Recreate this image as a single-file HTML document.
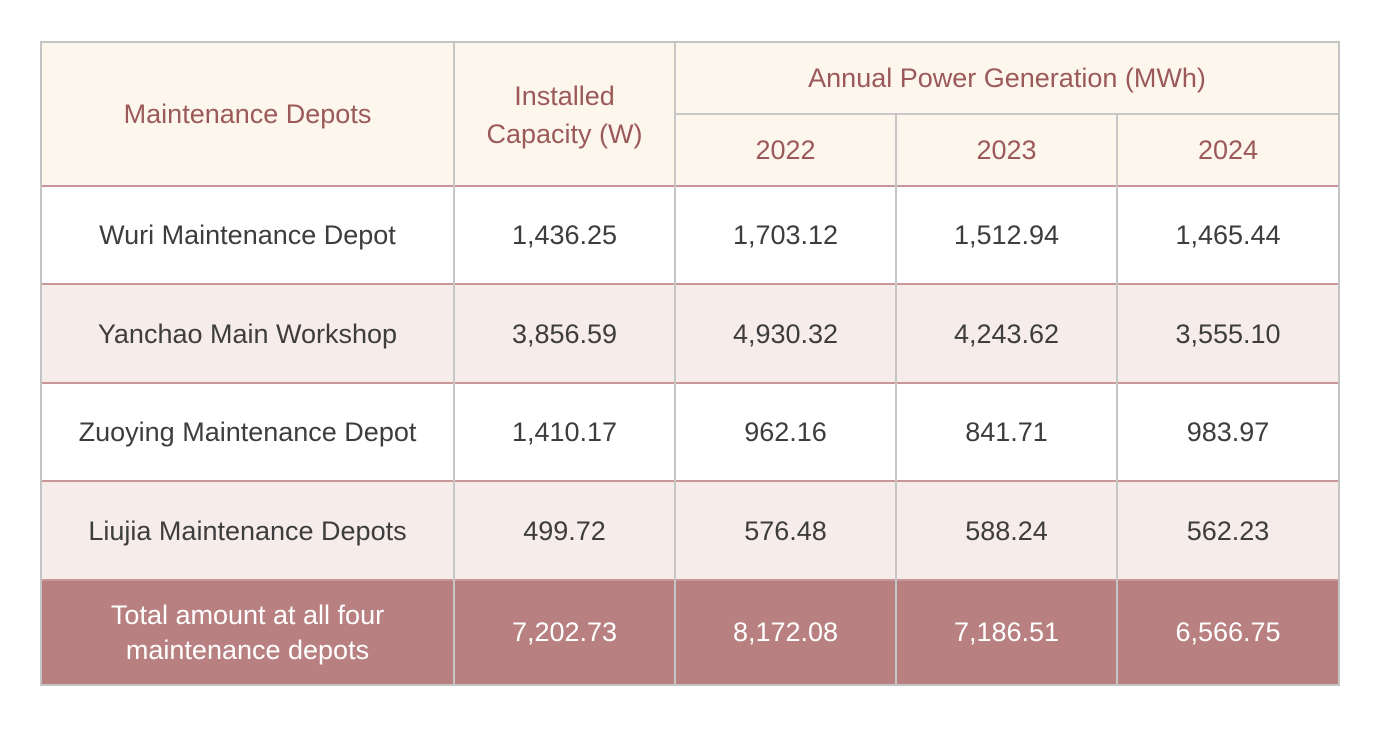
<!DOCTYPE html>
<html>
<head>
<meta charset="utf-8">
<style>
html,body{margin:0;padding:0;background:#fff;}
body{width:1380px;height:729px;position:relative;overflow:hidden;font-family:"Liberation Sans",sans-serif;}
.c{position:absolute;display:flex;align-items:center;justify-content:center;text-align:center;font-size:27px;line-height:38px;color:#3d3d3d;box-sizing:border-box;}
.h{color:#9b5a59;}
.t{color:#fff;line-height:35px;}
.bg{position:absolute;}
.v{position:absolute;width:2px;background:#c6c6c6;}
.hl{position:absolute;height:2px;}
</style>
</head>
<body>
<!-- backgrounds -->
<div class="bg" style="left:41px;top:42px;width:1298px;height:144px;background:#fdf6ed;"></div>
<div class="bg" style="left:41px;top:186px;width:1298px;height:98px;background:#ffffff;"></div>
<div class="bg" style="left:41px;top:284px;width:1298px;height:99px;background:#f6ecea;"></div>
<div class="bg" style="left:41px;top:383px;width:1298px;height:98px;background:#ffffff;"></div>
<div class="bg" style="left:41px;top:481px;width:1298px;height:99px;background:#f6ecea;"></div>
<div class="bg" style="left:41px;top:580px;width:1298px;height:105px;background:#b88080;"></div>

<!-- horizontal lines -->
<div class="hl" style="left:675px;top:113px;width:664px;background:#c8c8c8;"></div>
<div class="hl" style="left:41px;top:185px;width:1298px;background:#c9979a;"></div>
<div class="hl" style="left:41px;top:283px;width:1298px;background:#c9979a;"></div>
<div class="hl" style="left:41px;top:382px;width:1298px;background:#c9979a;"></div>
<div class="hl" style="left:41px;top:480px;width:1298px;background:#c9979a;"></div>
<div class="hl" style="left:41px;top:579px;width:1298px;background:#c9979a;"></div>

<!-- vertical lines -->
<div class="v" style="left:453px;top:42px;height:643px;"></div>
<div class="v" style="left:674px;top:42px;height:643px;"></div>
<div class="v" style="left:895px;top:113px;height:572px;"></div>
<div class="v" style="left:1116px;top:113px;height:572px;"></div>

<!-- outer border -->
<div style="position:absolute;left:40px;top:41px;width:1300px;height:645px;border:2px solid #c4c4c4;box-sizing:border-box;"></div>

<!-- header -->
<div class="c h" style="left:41px;top:42px;width:413px;height:144px;">Maintenance Depots</div>
<div class="c h" style="left:454px;top:42px;width:221px;height:144px;padding-top:2px;">Installed<br>Capacity (W)</div>
<div class="c h" style="left:675px;top:42px;width:664px;height:72px;">Annual Power Generation (MWh)</div>
<div class="c h" style="left:675px;top:114px;width:221px;height:72px;">2022</div>
<div class="c h" style="left:896px;top:114px;width:221px;height:72px;">2023</div>
<div class="c h" style="left:1117px;top:114px;width:222px;height:72px;">2024</div>

<!-- row 1 -->
<div class="c" style="left:41px;top:186px;width:413px;height:98px;">Wuri Maintenance Depot</div>
<div class="c" style="left:454px;top:186px;width:221px;height:98px;">1,436.25</div>
<div class="c" style="left:675px;top:186px;width:221px;height:98px;">1,703.12</div>
<div class="c" style="left:896px;top:186px;width:221px;height:98px;">1,512.94</div>
<div class="c" style="left:1117px;top:186px;width:222px;height:98px;">1,465.44</div>

<!-- row 2 -->
<div class="c" style="left:41px;top:284px;width:413px;height:99px;">Yanchao Main Workshop</div>
<div class="c" style="left:454px;top:284px;width:221px;height:99px;">3,856.59</div>
<div class="c" style="left:675px;top:284px;width:221px;height:99px;">4,930.32</div>
<div class="c" style="left:896px;top:284px;width:221px;height:99px;">4,243.62</div>
<div class="c" style="left:1117px;top:284px;width:222px;height:99px;">3,555.10</div>

<!-- row 3 -->
<div class="c" style="left:41px;top:383px;width:413px;height:98px;">Zuoying Maintenance Depot</div>
<div class="c" style="left:454px;top:383px;width:221px;height:98px;">1,410.17</div>
<div class="c" style="left:675px;top:383px;width:221px;height:98px;">962.16</div>
<div class="c" style="left:896px;top:383px;width:221px;height:98px;">841.71</div>
<div class="c" style="left:1117px;top:383px;width:222px;height:98px;">983.97</div>

<!-- row 4 -->
<div class="c" style="left:41px;top:481px;width:413px;height:99px;">Liujia Maintenance Depots</div>
<div class="c" style="left:454px;top:481px;width:221px;height:99px;">499.72</div>
<div class="c" style="left:675px;top:481px;width:221px;height:99px;">576.48</div>
<div class="c" style="left:896px;top:481px;width:221px;height:99px;">588.24</div>
<div class="c" style="left:1117px;top:481px;width:222px;height:99px;">562.23</div>

<!-- total -->
<div class="c t" style="left:41px;top:580px;width:413px;height:105px;">Total amount at all four<br>maintenance depots</div>
<div class="c t" style="left:454px;top:580px;width:221px;height:105px;">7,202.73</div>
<div class="c t" style="left:675px;top:580px;width:221px;height:105px;">8,172.08</div>
<div class="c t" style="left:896px;top:580px;width:221px;height:105px;">7,186.51</div>
<div class="c t" style="left:1117px;top:580px;width:222px;height:105px;">6,566.75</div>
</body>
</html>
